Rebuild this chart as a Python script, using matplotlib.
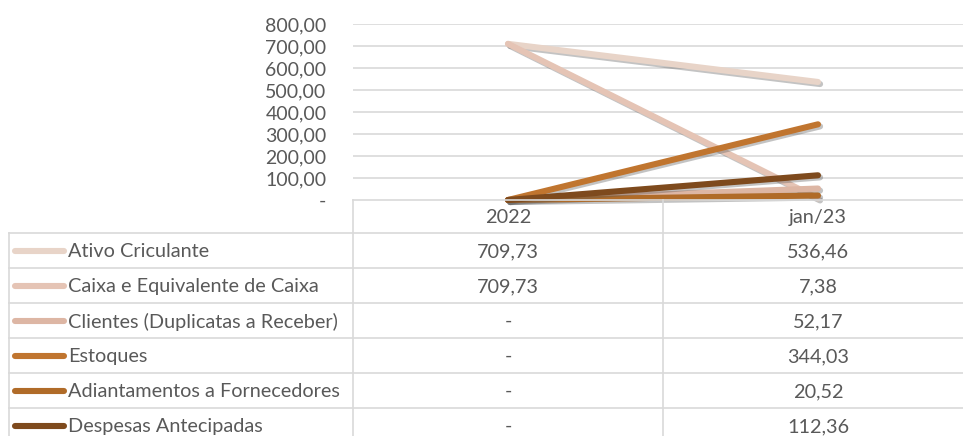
import matplotlib.pyplot as plt
import matplotlib.patheffects as pe

# Data
categories = ["2022", "jan/23"]
series_names = [
    "Ativo Criculante",
    "Caixa e Equivalente de Caixa",
    "Clientes (Duplicatas a Receber)",
    "Estoques",
    "Adiantamentos a Fornecedores",
    "Despesas Antecipadas",
]
v_2022 = [709.73, 709.73, 0, 0, 0, 0]
v_jan23 = [536.46, 7.38, 52.17, 344.03, 20.52, 112.36]
y_ticks = [0, 100, 200, 300, 400, 500, 600, 700, 800]

colors = ["#E8D4C8", "#E5C4B5", "#DDB6A4", "#C0752F", "#B06B28", "#7E4A1D"]
grid_color = "#D9D9D9"
text_color = "#595959"
font = ["Lato", "DejaVu Sans"]
fs = 14.3


def fmt(v):
    if v == 0:
        return "-"
    return f"{v:,.2f}".replace(",", "X").replace(".", ",").replace("X", ".")


W, H = 963, 436
fig = plt.figure(figsize=(W / 100, H / 100), dpi=100)

# layout in pixels
plot_left, plot_top, plot_bottom = 353, 24, 200
col_w = 310
row_h = 35
table_left = 9
header_bottom = 233

# chart axes
ax = fig.add_axes([plot_left / W, 1 - plot_bottom / H,
                   (W - plot_left) / W, (plot_bottom - plot_top) / H])
ax.set_xlim(-0.5, -0.5 + (W - plot_left) / col_w)
ax.set_ylim(0, 800)
for s in ax.spines.values():
    s.set_visible(False)
ax.set_xticks([])
ax.set_yticks(y_ticks)
ax.set_yticklabels(["-"] + [fmt(t) for t in y_ticks[1:]],
                   fontsize=14, color=text_color, family=font)
ax.tick_params(axis="y", length=0, pad=19)
for t in y_ticks[1:]:
    ax.axhline(t, color=grid_color, lw=1.2, zorder=0)

shadow = [pe.SimpleLineShadow(offset=(1.5, -1.5), alpha=0.35, shadow_color="#555555"),
          pe.Normal()]
xs = list(range(len(categories)))
for name, a, b, c in zip(series_names, v_2022, v_jan23, colors):
    ax.plot(xs, [a, b], color=c, lw=4.4, solid_capstyle="round",
            path_effects=shadow, clip_on=False, zorder=3)

# data table drawn in pixel coordinates
tx = fig.add_axes([0, 0, 1, 1])
tx.set_xlim(0, W)
tx.set_ylim(H, 0)
tx.axis("off")
tx.patch.set_alpha(0)

tx.plot([plot_left, W], [plot_bottom, plot_bottom], color=grid_color, lw=1.2)
for i in range(len(series_names) + 1):
    y = header_bottom + i * row_h
    tx.plot([table_left, W], [y, y], color=grid_color, lw=1.2)
tx.plot([table_left, table_left], [header_bottom, H], color=grid_color, lw=1.2)
for k in range(len(categories)):
    x = plot_left + k * col_w
    tx.plot([x, x], [plot_bottom, H], color=grid_color, lw=1.2)

for k, cat in enumerate(categories):
    tx.text(plot_left + (k + 0.5) * col_w, (plot_bottom + header_bottom) / 2 + 1, cat,
            ha="center", va="center", fontsize=fs, color=text_color, family=font)

for i, (name, c) in enumerate(zip(series_names, colors)):
    yc = header_bottom + (i + 0.5) * row_h
    tx.plot([15, 64], [yc, yc], color=c, lw=4.4, solid_capstyle="round")
    tx.text(68, yc + 1, name, ha="left", va="center", fontsize=fs,
            color=text_color, family=font)
    for k, vals in enumerate([v_2022, v_jan23]):
        tx.text(plot_left + (k + 0.5) * col_w, yc + 1, fmt(vals[i]),
                ha="center", va="center", fontsize=fs, color=text_color, family=font)

fig.savefig("out.png", dpi=100)
